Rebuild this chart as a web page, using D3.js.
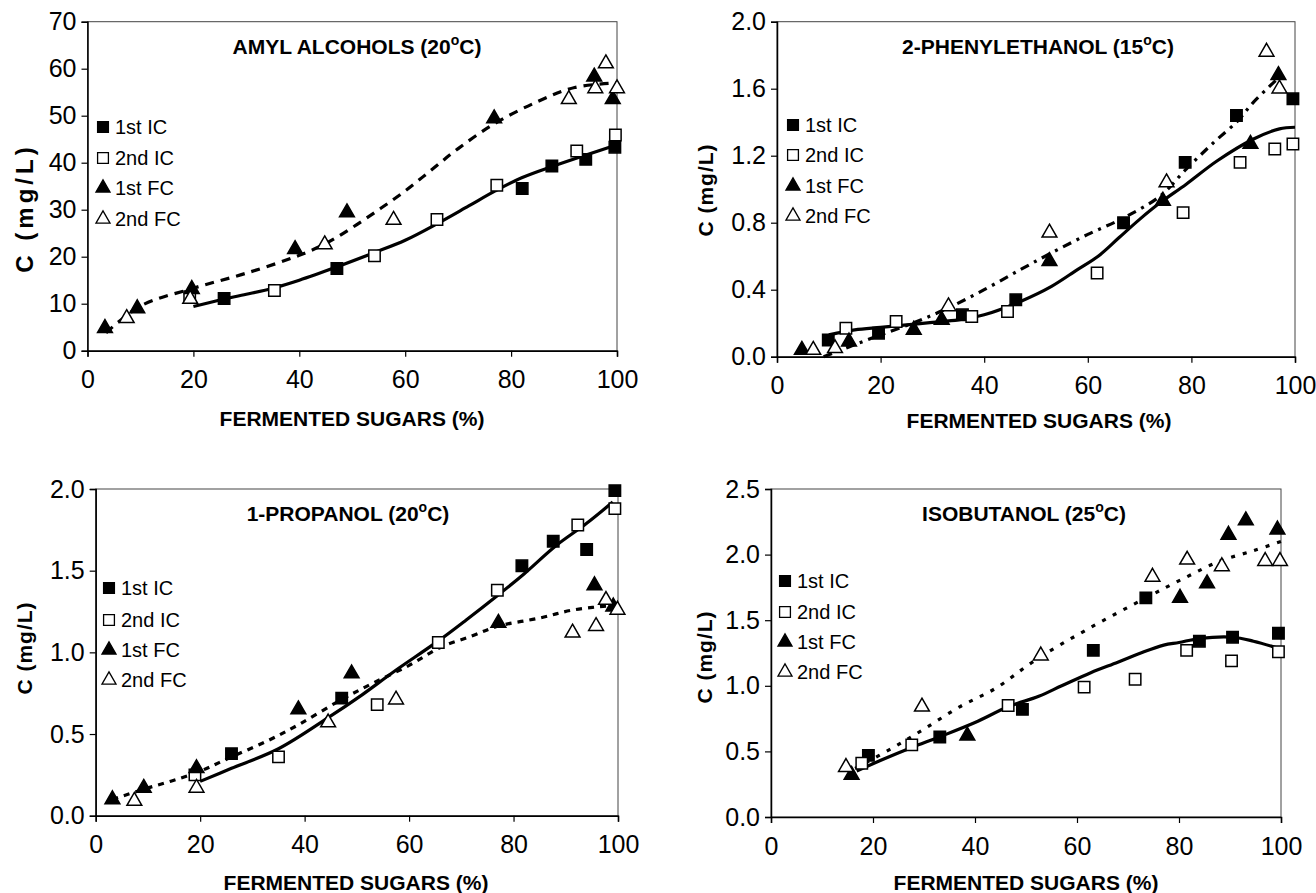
<!DOCTYPE html>
<html>
<head>
<meta charset="utf-8">
<script src="https://cdn.jsdelivr.net/npm/d3@7"></script>
<style>
  body { margin: 0; background: #fff; }
  svg { display: block; font-family: "Liberation Sans", Arial, sans-serif; }
</style>
</head>
<body>
<svg id="chart" width="1316" height="893"></svg>
<script>
// values: [fermented sugars %, C mg/L]
const legendLabels = ['1st IC', '2nd IC', '1st FC', '2nd FC']
const xTicks = [0, 20, 40, 60, 80, 100]

// amyl alcohols (20 C)
const amylTicks = [0, 10, 20, 30, 40, 50, 60, 70]
const amylIC1 = [[25.8, 11.1], [47.1, 17.5], [82.1, 34.5], [87.7, 39.3], [94.1, 40.7], [99.6, 43.3]]
const amylIC2 = [[19.3, 11.5], [35.3, 12.8], [54.2, 20.2], [66.0, 27.9], [77.3, 35.2], [92.4, 42.5], [99.7, 45.9]]
const amylFC1 = [[3.3, 4.8], [9.4, 9.0], [19.7, 13.1], [39.2, 21.6], [49.0, 29.4], [76.8, 49.4], [95.7, 58.3], [99.2, 53.5]]
const amylFC2 = [[7.4, 6.9], [19.4, 11.0], [44.8, 22.6], [57.8, 27.8], [90.9, 53.5], [95.9, 55.8], [97.9, 61.1], [100, 55.8]]
const amylFitIC = [[20, 9.4], [25, 10.8], [30, 12], [35, 13.3], [40, 15], [47, 17.8], [54, 20.8], [60, 23.5], [66, 27], [72, 30.8], [77, 34], [82, 36.8], [88, 39.3], [94, 41.6], [100, 43.8]]
const amylFitFC = [[3.5, 3.8], [10, 9.5], [20, 13.3], [30, 16.5], [40, 20.3], [45, 22.8], [50, 26.2], [55, 30], [60, 34], [65, 38.5], [70, 43], [77, 48.4], [85, 53], [92, 56], [100, 57]]

// 2-phenylethanol (15 C)
const pheTicks = [0, 0.4, 0.8, 1.2, 1.6, 2.0]
const pheIC1 = [[9.9, 0.10], [19.6, 0.14], [35.8, 0.25], [46.1, 0.34], [66.9, 0.80], [78.8, 1.16], [88.7, 1.44], [99.6, 1.54]]
const pheIC2 = [[13.3, 0.17], [23.0, 0.21], [37.6, 0.24], [44.5, 0.27], [61.8, 0.50], [78.4, 0.86], [89.4, 1.16], [96.1, 1.24], [99.6, 1.27]]
const pheFC1 = [[4.8, 0.04], [13.9, 0.09], [26.4, 0.16], [31.8, 0.22], [52.6, 0.57], [74.5, 0.93], [91.4, 1.27], [96.8, 1.68]]
const pheFC2 = [[7.0, 0.04], [11.2, 0.05], [33.1, 0.30], [52.6, 0.74], [75.2, 1.04], [94.5, 1.82], [97.0, 1.60]]
const pheFitIC = [[10, 0.13], [15, 0.16], [20, 0.175], [25, 0.19], [30, 0.205], [35, 0.22], [40, 0.25], [47, 0.33], [53, 0.42], [58, 0.52], [62, 0.6], [66, 0.71], [70, 0.82], [74, 0.92], [79, 1.03], [85, 1.17], [92, 1.30], [97, 1.36], [100, 1.37]]
const pheFitFC = [[9, 0.0], [14, 0.06], [20, 0.13], [27, 0.21], [33, 0.29], [40, 0.4], [47, 0.52], [53, 0.62], [60, 0.73], [67, 0.83], [74, 0.96], [79, 1.12], [84, 1.27], [89, 1.41], [92, 1.52], [97, 1.67]]

// 1-propanol (20 C)
const propTicks = [0, 0.5, 1.0, 1.5, 2.0]
const propIC1 = [[26.0, 0.38], [47.1, 0.72], [81.6, 1.53], [87.6, 1.68], [94.0, 1.63], [99.4, 1.99]]
const propIC2 = [[19.0, 0.25], [35.0, 0.36], [53.9, 0.68], [65.6, 1.06], [76.9, 1.38], [92.3, 1.78], [99.4, 1.88]]
const propFC1 = [[3.2, 0.10], [9.2, 0.17], [19.3, 0.29], [38.8, 0.65], [49.0, 0.87], [77.1, 1.18], [95.5, 1.41], [99.1, 1.28]]
const propFC2 = [[7.4, 0.09], [19.3, 0.17], [44.5, 0.57], [57.5, 0.71], [91.3, 1.12], [95.8, 1.16], [97.7, 1.32], [99.9, 1.26]]
const propFitIC = [[20, 0.21], [26, 0.29], [35, 0.41], [44.5, 0.6], [51, 0.74], [57, 0.88], [65.6, 1.07], [71, 1.2], [77, 1.35], [82, 1.48], [88, 1.65], [94, 1.79], [99, 1.92]]
const propFitFC = [[3.2, 0.1], [9, 0.16], [19, 0.26], [26, 0.36], [33, 0.46], [39, 0.56], [47, 0.71], [53, 0.81], [60, 0.92], [66, 1.03], [72, 1.1], [77, 1.16], [85, 1.21], [91.5, 1.26], [100, 1.29]]

// isobutanol (25 C)
const isoTicks = [0, 0.5, 1.0, 1.5, 2.0, 2.5]
const isoIC1 = [[19.1, 0.47], [33.1, 0.61], [49.3, 0.82], [63.2, 1.27], [73.5, 1.67], [84.0, 1.34], [90.5, 1.37], [99.5, 1.40]]
const isoIC2 = [[17.8, 0.41], [27.6, 0.55], [46.5, 0.85], [61.4, 0.99], [71.4, 1.05], [81.5, 1.27], [90.3, 1.19], [99.5, 1.26]]
const isoFC1 = [[15.8, 0.32], [38.5, 0.62], [80.2, 1.67], [85.5, 1.78], [89.7, 2.15], [93.1, 2.26], [99.3, 2.19]]
const isoFC2 = [[14.7, 0.38], [29.6, 0.84], [52.9, 1.23], [74.8, 1.83], [81.6, 1.96], [88.4, 1.91], [96.9, 1.95], [99.8, 1.95]]
const isoFitIC = [[16.8, 0.35], [22, 0.44], [27.6, 0.53], [33, 0.61], [40, 0.72], [46.5, 0.84], [52.5, 0.92], [57, 1.0], [62.7, 1.1], [68, 1.18], [72.5, 1.25], [77, 1.31], [80, 1.33], [84, 1.36], [90.5, 1.37], [94.6, 1.34], [100, 1.28]]
const isoFitFC = [[16.5, 0.37], [24, 0.53], [30, 0.67], [37, 0.84], [44, 0.98], [52, 1.2], [62, 1.43], [73.5, 1.67], [81.5, 1.83], [88, 1.95], [94.6, 2.03], [100, 2.1]]

const panels = [
    {name: 'AMYL ALCOHOLS', temp: '20', yTicks: amylTicks, fmt: d3.format('d'),
     series: [amylIC1, amylIC2, amylFC1, amylFC2], fitIC: amylFitIC, fitFC: amylFitFC,
     left: 87.5, right: 617, top: 21.7, bottom: 350.7, dash: '9,7',
     yLab: [26, 208, 24, 4], titleX: 357, titleY: 54, xTitleX: 352, xTitleY: 426,
     legX: 103, legRows: [127, 158, 188, 219]},
    {name: '2-PHENYLETHANOL', temp: '15', yTicks: pheTicks, fmt: d3.format('.1f'),
     series: [pheIC1, pheIC2, pheFC1, pheFC2], fitIC: pheFitIC, fitFC: pheFitFC,
     left: 777, right: 1295, top: 21.7, bottom: 356.7, dash: '9,6,3,6',
     yLab: [706, 190, 21, 1], titleX: 1038, titleY: 54, xTitleX: 1039, xTitleY: 428,
     legX: 793, legRows: [125, 155, 186, 216]},
    {name: '1-PROPANOL', temp: '20', yTicks: propTicks, fmt: d3.format('.1f'),
     series: [propIC1, propIC2, propFC1, propFC2], fitIC: propFitIC, fitFC: propFitFC,
     left: 95.7, right: 618, top: 489, bottom: 815.7, dash: '6,6',
     yLab: [25, 648, 21, 1], titleX: 348, titleY: 521, xTitleX: 356, xTitleY: 890,
     legX: 109, legRows: [588, 620, 650, 680]},
    {name: 'ISOBUTANOL', temp: '25', yTicks: isoTicks, fmt: d3.format('.1f'),
     series: [isoIC1, isoIC2, isoFC1, isoFC2], fitIC: isoFitIC, fitFC: isoFitFC,
     left: 771, right: 1281, top: 489, bottom: 817, dash: '4,8',
     yLab: [705, 657, 21, 1], titleX: 1024, titleY: 521, xTitleX: 1026, xTitleY: 890,
     legX: 785, legRows: [581, 612, 642, 672]}
]

const svg = d3.select('#chart')
svg.append('rect').attr('width', 1316).attr('height', 893).attr('fill', '#fff')

// marker styles: filled square, open square, filled triangle, open triangle
const markerShapes = [d3.symbolSquare, d3.symbolSquare, d3.symbolTriangle, d3.symbolTriangle]
const markerFill = ['#000', '#fff', '#000', '#fff']
const markerSize = [130, 130, 95, 95]

panels.forEach(p => drawPanel(p))

function drawPanel(p) {
    const x = d3.scaleLinear().domain([0, 100]).range([p.left, p.right])
    const yMax = p.yTicks[p.yTicks.length - 1]
    const y = d3.scaleLinear().domain([0, yMax]).range([p.bottom, p.top])
    const g = svg.append('g')

    // frame
    g.append('rect')
        .attr('x', p.left).attr('y', p.top)
        .attr('width', p.right - p.left).attr('height', p.bottom - p.top)
        .attr('fill', 'none').attr('stroke', '#444').attr('stroke-width', 1)

    const xAxis = g.append('g')
        .attr('transform', `translate(0, ${p.bottom})`)
        .call(d3.axisBottom(x).tickValues(xTicks).tickSize(6).tickPadding(14))
    const yAxis = g.append('g')
        .attr('transform', `translate(${p.left}, 0)`)
        .call(d3.axisLeft(y).tickValues(p.yTicks).tickFormat(p.fmt).tickSize(6).tickPadding(5))
    ;[xAxis, yAxis].forEach(a => {
        a.select('.domain').attr('stroke', '#000').attr('stroke-width', 1.5)
        a.selectAll('.tick line').attr('stroke', '#000').attr('stroke-width', 1.2)
        a.selectAll('.tick text')
            .attr('fill', '#000')
            .style('font-size', '25px')
            .style('font-family', '"Liberation Sans", Arial, sans-serif')
    })
    xAxis.selectAll('.tick text').attr('dy', '0.71em')

    // fitted curves
    const line = d3.line()
        .x(d => x(d[0]))
        .y(d => y(d[1]))
        .curve(d3.curveCatmullRom.alpha(0.5))
    g.append('path')
        .attr('d', line(p.fitIC))
        .attr('fill', 'none').attr('stroke', '#000').attr('stroke-width', 3.2)
    g.append('path')
        .attr('d', line(p.fitFC))
        .attr('fill', 'none').attr('stroke', '#000').attr('stroke-width', 3.2)
        .attr('stroke-dasharray', p.dash)

    // points
    p.series.forEach((s, i) => {
        g.selectAll(null)
            .data(s)
            .enter()
            .append('path')
            .attr('d', d3.symbol().type(markerShapes[i]).size(markerSize[i]))
            .attr('transform', d => `translate(${x(d[0])}, ${y(d[1])})`)
            .attr('fill', markerFill[i])
            .attr('stroke', '#000')
            .attr('stroke-width', 1.5)
    })

    // legend
    legendLabels.forEach((lab, i) => {
        g.append('path')
            .attr('d', d3.symbol().type(markerShapes[i]).size(markerSize[i] * 0.9))
            .attr('transform', `translate(${p.legX}, ${p.legRows[i]})`)
            .attr('fill', markerFill[i]).attr('stroke', '#000').attr('stroke-width', 1.3)
        g.append('text')
            .attr('x', p.legX + 12).attr('y', p.legRows[i] + 7)
            .style('font-size', '20px')
            .text(lab)
    })

    // title with superscript degree
    const t = g.append('text')
        .attr('x', p.titleX).attr('y', p.titleY)
        .attr('text-anchor', 'middle')
        .style('font-size', '21px').style('font-weight', 'bold')
    t.append('tspan').text(`${p.name} (${p.temp}`)
    t.append('tspan').attr('dy', -9).style('font-size', '14px').text('o')
    t.append('tspan').attr('dy', 9).text('C)')

    g.append('text')
        .attr('x', p.xTitleX).attr('y', p.xTitleY)
        .attr('text-anchor', 'middle')
        .style('font-size', '21px').style('font-weight', 'bold')
        .text('FERMENTED SUGARS (%)')

    g.append('text')
        .attr('transform', `translate(${p.yLab[0] + 7}, ${p.yLab[1]}) rotate(-90)`)
        .attr('text-anchor', 'middle')
        .style('font-size', p.yLab[2] + 'px').style('font-weight', 'bold')
        .style('letter-spacing', p.yLab[3] + 'px')
        .text('C (mg/L)')
}
</script>
</body>
</html>
